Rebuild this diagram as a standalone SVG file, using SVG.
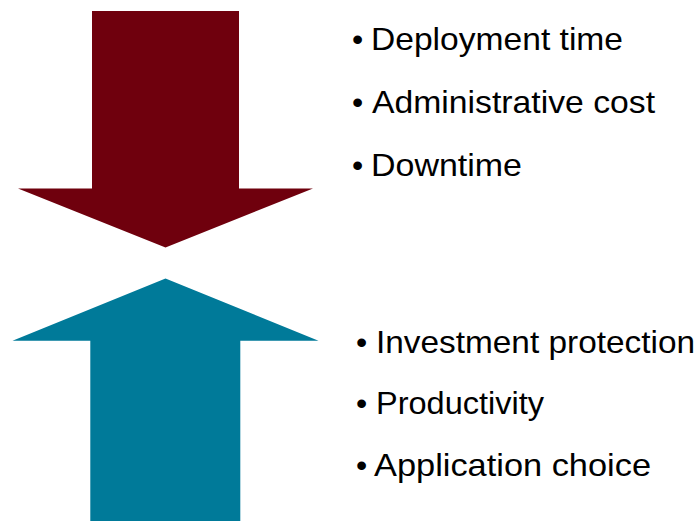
<svg xmlns="http://www.w3.org/2000/svg" width="697" height="521" viewBox="0 0 697 521">
<style>
.t{font-family:"Liberation Sans",Arial,sans-serif;font-size:32px;fill:#000}
.b{font-family:"Liberation Sans",Arial,sans-serif;font-size:32px;fill:#000}
</style>
<rect width="697" height="521" fill="#fff"/>
<g id="arrow-down">
<polygon points="92,11 239,11 239,188.5 313,188.5 165.5,247.5 18,188.5 92,188.5" fill="#6f000d"/>
</g>
<g id="arrow-up">
<polygon points="165.5,278.5 318.5,340.7 240.3,340.7 240.3,521 90.3,521 90.3,340.7 12.5,340.7" fill="#007a99"/>
</g>
<g id="top-list">
<text class="b" x="352" y="50">•</text><text class="t" x="371" y="50" textLength="252" lengthAdjust="spacingAndGlyphs">Deployment time</text>
<text class="b" x="352" y="113">•</text><text class="t" x="372" y="113" textLength="283" lengthAdjust="spacingAndGlyphs">Administrative cost</text>
<text class="b" x="352" y="176">•</text><text class="t" x="371" y="176" textLength="151" lengthAdjust="spacingAndGlyphs">Downtime</text>
</g>
<g id="bottom-list">
<text class="b" x="356" y="353">•</text><text class="t" x="376" y="353" textLength="319" lengthAdjust="spacingAndGlyphs">Investment protection</text>
<text class="b" x="356" y="414">•</text><text class="t" x="376" y="414" textLength="168" lengthAdjust="spacingAndGlyphs">Productivity</text>
<text class="b" x="356" y="476">•</text><text class="t" x="374" y="476" textLength="277" lengthAdjust="spacingAndGlyphs">Application choice</text>
</g>
</svg>
